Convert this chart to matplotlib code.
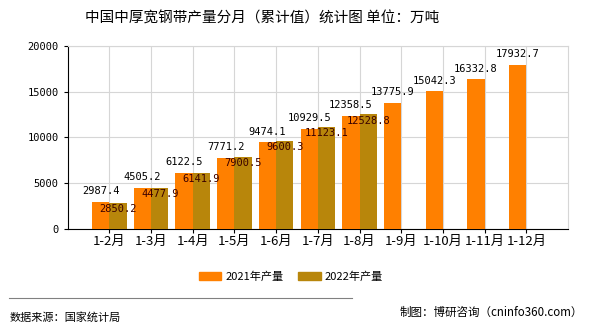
import numpy as np
import matplotlib.pyplot as plt
from matplotlib.patches import Patch
from matplotlib.lines import Line2D

plt.rcParams['font.family'] = ['Noto Sans CJK SC', 'DejaVu Sans']

""" DATA """
months = ['1-2月', '1-3月', '1-4月', '1-5月', '1-6月', '1-7月', '1-8月',
          '1-9月', '1-10月', '1-11月', '1-12月']
prod_2021 = [2987.4, 4505.2, 6122.5, 7771.2, 9474.1, 10929.5, 12358.5,
             13775.9, 15042.3, 16332.8, 17932.7]
prod_2022 = [2850.2, 4477.9, 6141.9, 7900.5, 9600.3, 11123.1, 12528.8]
y_ticks = [0, 5000, 10000, 15000, 20000]

C21 = '#ff8000'
C22 = '#b8860b'
MONO = 'DejaVu Sans Mono'

fig = plt.figure(figsize=(5.9, 3.3), dpi=100)
ax = fig.add_axes([0.1147, 0.306, 0.848, 0.5555])

x = np.arange(len(months))
w = 0.415
x22 = np.arange(len(prod_2022))
ax.bar(x - w / 2, prod_2021, width=w, color=C21, zorder=3)
ax.bar(x22 + w / 2, prod_2022, width=w, color=C22, zorder=3)

for xi, v in zip(x, prod_2021):
    ax.annotate(f'{v:.1f}', (xi - w / 2, v), xytext=(0, 4), textcoords='offset points',
                ha='center', va='bottom', fontsize=7.5, family=MONO, zorder=5)
for xi, v in zip(x22, prod_2022):
    ax.annotate(f'{v:.1f}', (xi + w / 2, v), xytext=(0, -1), textcoords='offset points',
                ha='center', va='top', fontsize=7.5, family=MONO,
                color='#3a0000', zorder=5)

ax.set_xlim(-1, len(months))
ax.set_ylim(0, 20000)
ax.set_xticks(x)
ax.set_xticklabels(months, fontsize=9.5)
ax.set_yticks(y_ticks)
ax.set_yticklabels([str(t) for t in y_ticks], fontsize=7.5, family=MONO)
ax.tick_params(axis='both', length=3, width=0.8, color='black')
ax.tick_params(axis='x', pad=1)

ax.grid(True, color='#d6d6d6', linewidth=0.8, zorder=0)
ax.set_axisbelow(True)
ax.spines['top'].set_color('#d6d6d6')
ax.spines['right'].set_color('#d6d6d6')
ax.spines['left'].set_color('black')
ax.spines['bottom'].set_color('black')

fig.text(0.444, 0.945, '中国中厚宽钢带产量分月（累计值）统计图 单位：万吨',
         ha='center', va='center', fontsize=10.5)

handles = [Patch(color=C21, label='2021年产量'), Patch(color=C22, label='2022年产量')]
fig.legend(handles=handles, loc='center', bbox_to_anchor=(0.493, 1 - 277 / 330), ncol=2,
           frameon=False, fontsize=8, handlelength=2.0, handleheight=0.7,
           columnspacing=1.35, handletextpad=0.35)

fig.add_artist(Line2D([9 / 590, 352 / 590], [1 - 298 / 330, 1 - 298 / 330],
                      color='#808080', linewidth=0.8))
fig.text(10 / 590, 1 - 317 / 330, '数据来源：国家统计局', ha='left', va='center',
         fontsize=8)
fig.text(583 / 590, 1 - 312 / 330, '制图：博研咨询（cninfo360.com）', ha='right',
         va='center', fontsize=8.3)

fig.savefig('out.png', dpi=100)
